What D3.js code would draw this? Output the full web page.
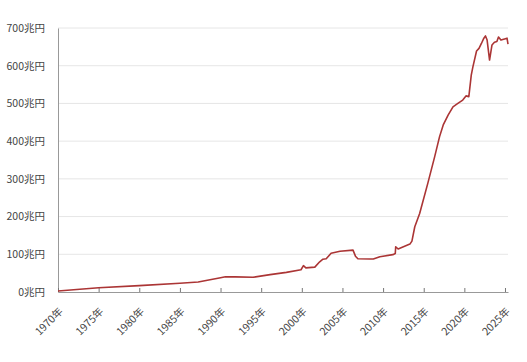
<!DOCTYPE html>
<html>
<head>
<meta charset="utf-8">
<script src="https://cdn.jsdelivr.net/npm/d3@7"></script>
<style>
  body { margin: 0; background: #fff; }
  text { font-family: "Noto Sans CJK JP", "Noto Sans", sans-serif; }
</style>
</head>
<body>
<script>
// monetary base, 兆円
var years = [1970, 1975, 1980, 1985, 1987.25, 1990, 1990.6, 1991.8, 1994, 1996.1, 1998.1, 1999.9,
  2000.2, 2000.5, 2001.6, 2002.2, 2002.6, 2003, 2003.6, 2004.7, 2006.3, 2006.6, 2006.9,
  2008.4, 2008.8, 2009.6, 2011.2, 2011.5, 2011.55, 2011.85, 2013.3, 2013.55, 2013.9, 2014.5,
  2015.5, 2016.35, 2016.95, 2017.4, 2018.0, 2018.6, 2019.2, 2019.8, 2020.2, 2020.55,
  2020.85, 2021.05, 2021.5, 2021.8, 2022.1, 2022.4, 2022.6, 2022.8, 2023.1, 2023.4,
  2023.7, 2024.0, 2024.2, 2024.5, 2024.95, 2025.25, 2025.37];
var values = [2.6, 11.4, 16.8, 23, 26.5, 38, 40.6, 40, 39, 46, 52, 59,
  70, 64, 66, 80, 87, 88, 102.6, 108, 111, 95, 88,
  87.5, 87.5, 93.6, 99, 102, 120, 114, 127, 135, 173, 208,
  288, 359, 412, 443, 469, 491, 500, 509, 520, 518,
  575, 597, 639, 646, 659, 673, 679, 668, 615, 655,
  662, 664, 676, 668, 671, 673, 657];
var yTicks = [0, 100, 200, 300, 400, 500, 600, 700];
var xTicks = [1970, 1975, 1980, 1985, 1990, 1995, 2000, 2005, 2010, 2015, 2020, 2025];

var width = 527, height = 362;
var margin = {top: 28, right: 19, bottom: 70, left: 58};

var svg = d3.select("body").append("svg")
    .attr("width", width)
    .attr("height", height);

var x = d3.scaleLinear()
    .domain([1970, 2025.37])
    .range([margin.left, width - margin.right]);
var y = d3.scaleLinear()
    .domain([0, 700])
    .range([height - margin.bottom, margin.top]);

// grid
svg.append("g")
    .selectAll("line")
    .data(yTicks.slice(1))
    .enter().append("line")
    .attr("x1", margin.left)
    .attr("x2", width - margin.right)
    .attr("y1", function(d) { return y(d); })
    .attr("y2", function(d) { return y(d); })
    .attr("stroke", "#e6e6e6")
    .attr("stroke-width", 1);

// y axis
var yAxis = svg.append("g")
    .attr("transform", "translate(" + margin.left + ",0)")
    .call(d3.axisLeft(y).tickValues(yTicks).tickSize(0).tickPadding(13)
        .tickFormat(function(d) { return d + "兆円"; }));
yAxis.select(".domain").attr("stroke", "#999");
yAxis.selectAll("text").attr("fill", "#444").style("font-size", "10.5px");

// x axis
var xAxis = svg.append("g")
    .attr("transform", "translate(0," + (height - margin.bottom) + ")")
    .call(d3.axisBottom(x).tickValues(xTicks).tickSizeInner(-4).tickSizeOuter(0)
        .tickFormat(function(d) { return d + "年"; }));
xAxis.select(".domain").attr("stroke", "#999");
xAxis.selectAll(".tick line").attr("stroke", "#777");
xAxis.selectAll("text")
    .attr("fill", "#444")
    .style("font-size", "10.5px")
    .attr("text-anchor", "end")
    .attr("dx", 0)
    .attr("dy", 0)
    .attr("transform", "translate(3,18) rotate(-45)");

// line
var line = d3.line()
    .x(function(d, i) { return x(years[i]); })
    .y(function(d) { return y(d); });

svg.append("path")
    .datum(values)
    .attr("fill", "none")
    .attr("stroke", "#ab3535")
    .attr("stroke-width", 1.6)
    .attr("stroke-linejoin", "round")
    .attr("d", line);
</script>
</body>
</html>
